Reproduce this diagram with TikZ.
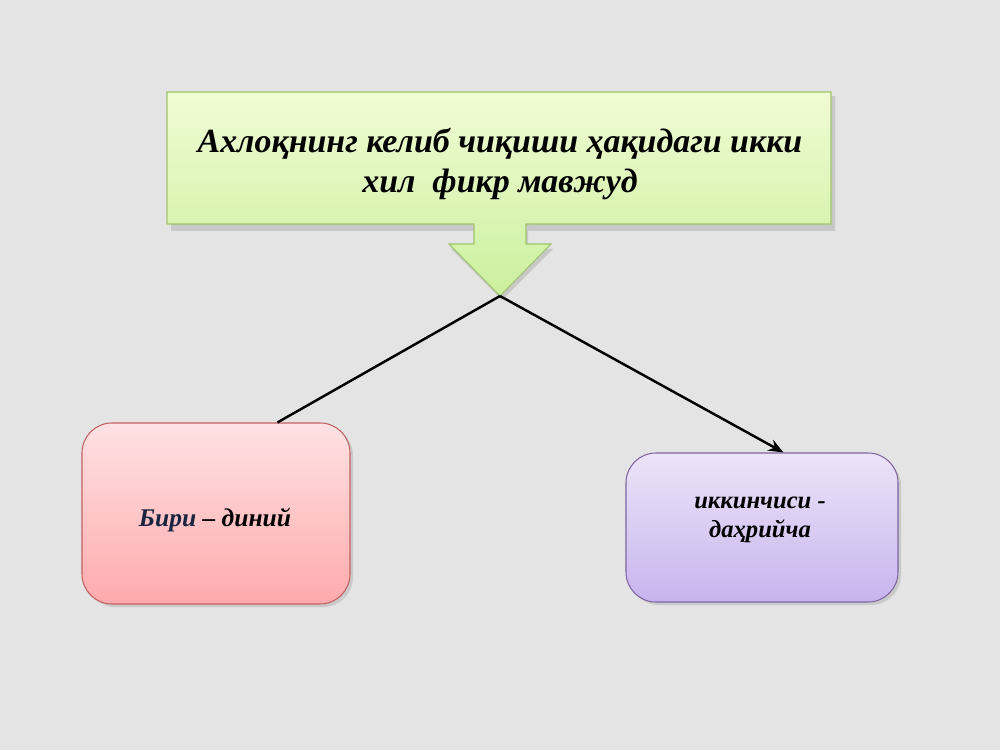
\documentclass[tikz,border=0pt]{standalone}
\usepackage{fontspec}
\setmainfont{Liberation Serif}
\usepackage{tikz}
\usetikzlibrary{arrows.meta, positioning, shadows}
\usepackage{xcolor}
\definecolor{pagebg}{RGB}{228, 228, 228}
\definecolor{greentop}{RGB}{240, 252, 212}
\definecolor{greenbot}{RGB}{204, 240, 158}
\definecolor{greenline}{RGB}{160, 196, 110}
\definecolor{pinktop}{RGB}{255, 226, 228}
\definecolor{pinkbot}{RGB}{255, 170, 172}
\definecolor{pinkline}{RGB}{196, 96, 96}
\definecolor{lilactop}{RGB}{236, 228, 248}
\definecolor{lilacbot}{RGB}{200, 180, 238}
\definecolor{lilacline}{RGB}{128, 100, 162}
\definecolor{navytext}{RGB}{24, 36, 64}

\begin{document}
\begin{tikzpicture}[
    answerbox/.style={rectangle, rounded corners=17pt, line width=0.6pt, align=center, drop shadow={opacity=0.25, shadow xshift=0.06cm, shadow yshift=-0.06cm}},
    answertext/.style={align=center, font=\fontsize{14.5}{16.5}\selectfont\bfseries\itshape},
    link/.style={line width=1.4pt, color=black},
]

% Background
\fill[pagebg] (0, 0) rectangle (20, 15);
\useasboundingbox (0, 0) rectangle (20, 15);

% Header callout
\path[fill=black, opacity=0.12] (3.42, 13.08) -- (16.70, 13.08) -- (16.70, 10.38) -- (10.56, 10.38) -- (10.56, 10.02) -- (11.06, 10.02) -- (10.04, 9.00) -- (9.02, 10.02) -- (9.56, 10.02) -- (9.56, 10.38) -- (3.42, 10.38) -- cycle;
\path[top color=greentop, bottom color=greenbot, draw=greenline, line width=0.6pt] (3.34, 13.16) -- (16.62, 13.16) -- (16.62, 10.52) -- (10.52, 10.52) -- (10.52, 10.12) -- (11.02, 10.12) -- (10.0, 9.08) -- (8.98, 10.12) -- (9.48, 10.12) -- (9.48, 10.52) -- (3.34, 10.52) -- cycle;
\coordinate (tip) at (10.0, 9.08);
\node[align=center, font=\fontsize{19.3}{22.8}\selectfont\bfseries\itshape] (title) at (10.0, 11.72) {Ахлоқнинг келиб чиқиши ҳақидаги икки\\хил\ \ фикр мавжуд};

% Answers
\node[answerbox, top color=pinktop, bottom color=pinkbot, draw=pinkline, minimum width=5.36cm, minimum height=3.62cm] (biri) at (4.32, 4.73) {};
\node[answertext] (biritext) at (4.3, 4.6) {\textcolor{navytext}{Бири} – диний};

\node[answerbox, top color=lilactop, bottom color=lilacbot, draw=lilacline, minimum width=5.44cm, minimum height=2.98cm] (ikki) at (15.24, 4.45) {};
\node[answertext, font=\fontsize{14}{16.5}\selectfont\bfseries\itshape] (ikkitext) at (15.2, 4.6) {иккинчиси -\\даҳрийча};

% Connectors
\draw[link] (tip) -- (biri.56);
\draw[link, -{Stealth[length=3mm, width=2.4mm]}] (tip) -- (ikki.74);

\end{tikzpicture}
\end{document}
